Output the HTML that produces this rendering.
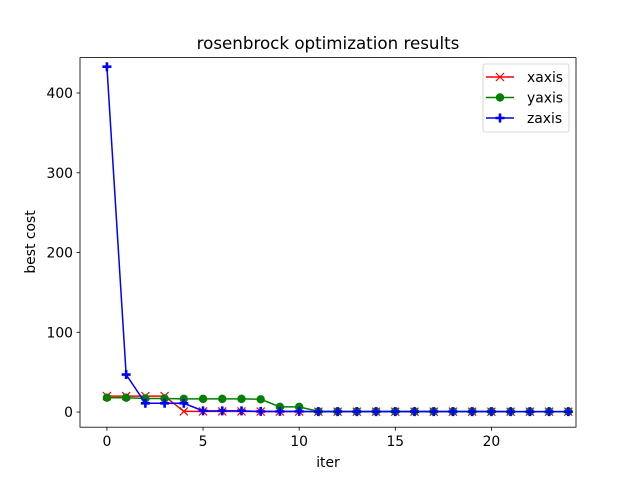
<!DOCTYPE html>
<html><head><meta charset="utf-8"><style>
body{margin:0;background:#fff}
svg text{font-family:"DejaVu Sans","Liberation Sans",sans-serif;fill:#000}
</style></head><body>
<svg id="chart" width="640" height="480" xmlns="http://www.w3.org/2000/svg"></svg>
<script>
const iters=[0,1,2,3,4,5,6,7,8,9,10,11,12,13,14,15,16,17,18,19,20,21,22,23,24];
const xaxisVals=[20,20,20,20,0.8,0.8,0.8,0.8,0.6,0.6,0.6,0.5,0.5,0.5,0.5,0.5,0.5,0.5,0.5,0.5,0.5,0.4,0.4,0.4,0.4];
const yaxisVals=[18,18,17,17,16.5,16.5,16.5,16.5,16,6.5,6.5,0.8,0.8,0.8,0.8,0.8,0.8,0.8,0.8,0.8,0.8,0.6,0.6,0.6,0.6];
const zaxisVals=[433,47,11,11,11,1.5,1.5,1.5,0.8,0.8,0.8,0.6,0.6,0.6,0.6,0.6,0.6,0.6,0.6,0.6,0.6,0.5,0.5,0.5,0.5];
const xTicks=[0,5,10,15,20];
const yTicks=[0,100,200,300,400];
const L=80,R=576,T=57.6,B=427.2,xmin=-1.4,xmax=24.4,ymin=-19,ymax=444.4;
const sx=v=>L+(v-xmin)/(xmax-xmin)*(R-L);
const sy=v=>B-(v-ymin)/(ymax-ymin)*(B-T);
const svg=document.getElementById('chart');
const NS='http://www.w3.org/2000/svg';
function mk(tag,attrs,parent){const e=document.createElementNS(NS,tag);for(const k in attrs)e.setAttribute(k,attrs[k]);(parent||svg).appendChild(e);return e;}
const clip=mk('clipPath',{id:'c'});mk('rect',{x:L-5,y:T,width:R-L+5,height:B-T},clip);
xTicks.forEach(t=>{const g=mk('g',{});


mk('line',{x1:sx(t),x2:sx(t),y1:B,y2:B+3.5,stroke:'#000','stroke-width':0.8},g);
const tx=mk('text',{x:sx(t),y:B+19,'text-anchor':'middle','font-size':13.9},g);tx.textContent=t;});
yTicks.forEach(t=>{const g=mk('g',{});


mk('line',{x1:L-3.5,x2:L,y1:sy(t),y2:sy(t),stroke:'#000','stroke-width':0.8},g);
const tx=mk('text',{x:L-7,y:sy(t)+5,'text-anchor':'end','font-size':13.9},g);tx.textContent=t;});
function series(name,vals,color,marker){
const g=mk('g',{'clip-path':'url(#c)'});


mk('polyline',{points:iters.map((x,i)=>sx(x)+','+sy(vals[i])).join(' '),fill:'none',stroke:color,'stroke-width':1.5},g);
iters.forEach((x,i)=>drawMarker(g,sx(x),sy(vals[i]),color,marker));}
function drawMarker(g,x,y,c,m){
if(m==='x'){mk('path',{d:`M${x-4},${y-4}L${x+4},${y+4}M${x-4},${y+4}L${x+4},${y-4}`,stroke:c,'stroke-width':1.2},g);}
else if(m==='o'){mk('circle',{cx:x,cy:y,r:4.2,fill:c},g);}
else{mk('path',{d:`M${x-4.5},${y}L${x+4.5},${y}M${x},${y-4.5}L${x},${y+4.5}`,stroke:c,'stroke-width':2.6},g);}}
series('xaxis',xaxisVals,'#ff0000','x');
series('yaxis',yaxisVals,'#008000','o');
series('zaxis',zaxisVals,'#0000ff','P');
mk('rect',{x:L,y:T,width:R-L,height:B-T,fill:'none',stroke:'#000','stroke-width':0.8});
let t=mk('text',{x:328,y:49,'text-anchor':'middle','font-size':16.7});t.textContent='rosenbrock optimization results';

t=mk('text',{x:328,y:467,'text-anchor':'middle','font-size':13.9});t.textContent='iter';

t=mk('text',{x:35,y:242,'text-anchor':'middle','font-size':13.9,transform:'rotate(-90 35 242)'});t.textContent='best cost';

const lg=mk('g',{});


mk('rect',{x:483,y:64,width:86,height:68,rx:2,fill:'#fff',stroke:'#ccc','stroke-width':0.8},lg);
[['xaxis','#ff0000','x'],['yaxis','#008000','o'],['zaxis','#0000ff','P']].forEach((s,i)=>{
const y=77+i*20.5;const e=mk('g',{},lg);


mk('line',{x1:486,x2:514,y1:y,y2:y,stroke:s[1],'stroke-width':1.5},e);
drawMarker(e,500,y,s[1],s[2]);
const tx=mk('text',{x:527,y:y+5,'font-size':13.9},e);tx.textContent=s[0];});
</script>
</body></html>
